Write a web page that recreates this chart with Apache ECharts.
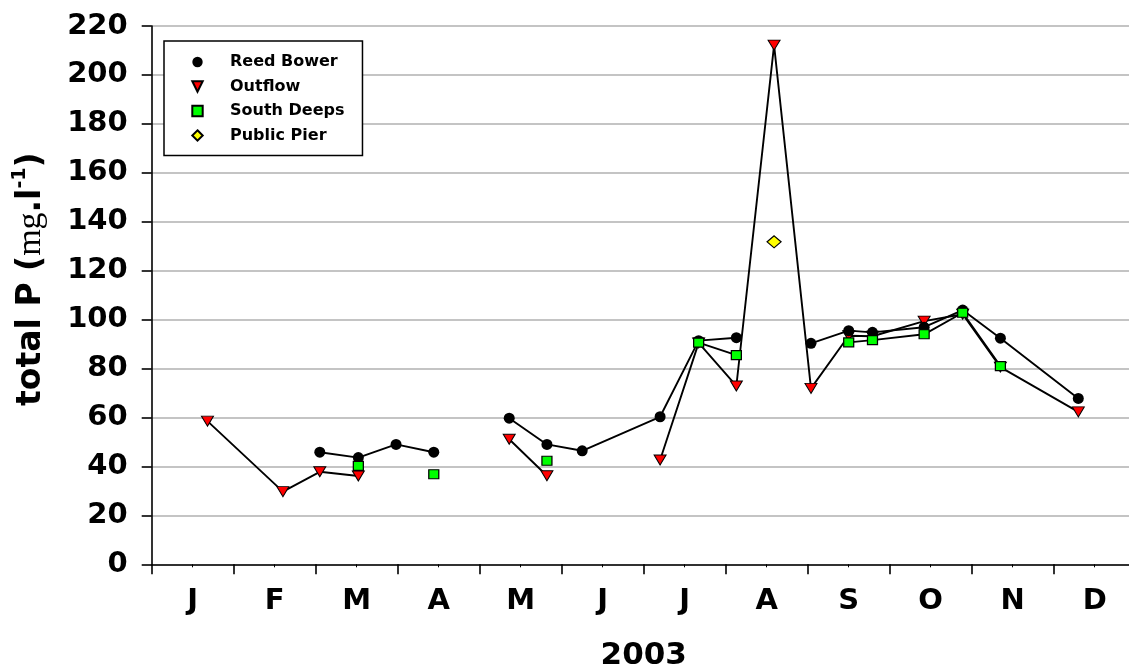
<!DOCTYPE html>
<html>
<head>
<meta charset="utf-8">
<script src="https://cdn.jsdelivr.net/npm/echarts@6/dist/echarts.min.js"></script>
<style>
  html, body { margin: 0; padding: 0; background: #ffffff; }
  #chart { width: 1129px; height: 672px; }
</style>
</head>
<body>
<div id="chart"></div>
<script>
// Month initials shown under the time axis (one per month of 2003)
const monthLabels = ['J', 'F', 'M', 'A', 'M', 'J', 'J', 'A', 'S', 'O', 'N', 'D'];

// Sampling dates, in months since 1 January 2003 (fractional)
const sampleMonths = [0.68, 1.60, 2.05, 2.52, 2.98, 3.44, 3.90, 4.36, 4.82, 5.25,
                      6.20, 6.67, 7.13, 7.59, 8.04, 8.50, 8.79, 9.42, 9.89, 10.35, 11.30];

// Total phosphorus per site; null = not sampled on that date (breaks the line)
const reedBower  = [null, null, 45.8, 43.6, 49.0, 45.8, null, 59.7, 49.0, 46.4,
                    60.3, 91.4, 92.6, null, 90.3, 95.5, 94.8, 96.9, 103.9, 92.4, 67.8];
const outflow    = [58.5, 29.7, 37.8, 36.1, null, null, null, 51.1, 36.2, null,
                    42.6, 90.5, 72.9, 212.2, 71.9, 93.4, 93.2, 99.4, 102.2, 80.6, 62.3];
const southDeeps = [null, null, null, 40.2, null, 36.8, null, null, 42.3, null,
                    null, 90.6, 85.5, null, null, 90.7, 91.6, 94.0, 102.8, 81.0, null];
const publicPier = [null, null, null, null, null, null, null, null, null, null,
                    null, null, null, 131.8, null, null, null, null, null, null, null];

// Value axis range
const yMin = 0, yMax = 220, yStep = 20;

const toPairs = vals => sampleMonths.map((m, i) => [m, vals[i] === null ? '-' : vals[i]]);

const boldFont = 'DejaVu Sans';

const lineStyle = { color: '#000000', width: 1.9 };

const chart = echarts.init(document.getElementById('chart'), null, { renderer: 'canvas' });

chart.setOption({
  animation: false,
  backgroundColor: '#ffffff',
  grid: {
    left: 151.7, right: -6.7, top: 26, bottom: 107.7,
    containLabel: false, outerBoundsMode: 'none'
  },
  legend: {
    orient: 'vertical',
    left: 164, top: 41,
    backgroundColor: '#ffffff',
    borderColor: '#000000', borderWidth: 1.5, borderRadius: 0,
    padding: [13, 18, 12, 26],
    itemWidth: 13, itemHeight: 13, itemGap: 8.5,
    lineStyle: { color: 'rgba(0,0,0,0)' },
    textStyle: {
      fontFamily: boldFont, fontWeight: 'bold', fontSize: 16, color: '#000000',
      lineHeight: 13, padding: [0, 0, 0, 21]
    },
    selectedMode: false,
    data: ['Reed Bower', 'Outflow', 'South Deeps', 'Public Pier']
  },
  xAxis: [
    {
      type: 'value', min: 0, max: 12, interval: 1, position: 'bottom',
      axisLine: { show: true, onZero: false, lineStyle: { color: '#000000', width: 1.6 } },
      axisTick: { show: true, inside: false, length: 10, lineStyle: { color: '#000000', width: 1.6 } },
      minorTick: { show: true, splitNumber: 2, length: 3, lineStyle: { color: '#000000', width: 1 } },
      axisLabel: { show: false },
      splitLine: { show: false },
      name: '2003', nameLocation: 'middle', nameGap: 76, nameMoveOverlap: false,
      nameTextStyle: { fontFamily: boldFont, fontWeight: 'bold', fontSize: 31, color: '#000000' }
    },
    {
      // carries the month initials, centred on each month
      type: 'value', min: 0, max: 12, interval: 0.5, position: 'bottom', gridIndex: 0,
      axisLine: { show: false }, axisTick: { show: false }, splitLine: { show: false },
      axisLabel: {
        margin: 23, fontFamily: boldFont, fontWeight: 'bold', fontSize: 29, color: '#000000',
        formatter: v => (Math.abs(v - Math.round(v)) < 1e-6 ? '' : monthLabels[Math.floor(v)])
      }
    }
  ],
  yAxis: {
    type: 'value', min: yMin, max: yMax, interval: yStep,
    axisLine: { show: true, lineStyle: { color: '#000000', width: 1.6 } },
    axisTick: { show: true, inside: false, length: 10, lineStyle: { color: '#000000', width: 1.6 } },
    axisLabel: { margin: 24, fontFamily: boldFont, fontWeight: 'bold', fontSize: 29, color: '#000000' },
    splitLine: { show: true, lineStyle: { color: '#c4c4c4', width: 2 } },
    name: '{a|total P (}{m|mg}{a|.l}{s|-1}{a|)}',
    nameLocation: 'middle', nameRotate: 90, nameGap: 100, nameMoveOverlap: false,
    nameTextStyle: {
      padding: [0, 0, 0, 32],
      rich: {
        a: { fontFamily: boldFont, fontWeight: 'bold', fontSize: 33, color: '#000000' },
        m: { fontFamily: 'Liberation Serif', fontWeight: 'normal', fontSize: 34, color: '#000000' },
        s: { fontFamily: boldFont, fontWeight: 'bold', fontSize: 19, color: '#000000', padding: [0, 0, 22, 0] }
      }
    }
  },
  series: [
    {
      name: 'Outflow', type: 'line', xAxisIndex: 0, data: toPairs(outflow),
      symbol: 'triangle', symbolRotate: 180, symbolSize: [12, 10], connectNulls: false,
      lineStyle: lineStyle,
      itemStyle: { color: '#ff0000', borderColor: '#000000', borderWidth: 1 },
      z: 2
    },
    {
      name: 'Reed Bower', type: 'line', xAxisIndex: 0, data: toPairs(reedBower),
      symbol: 'circle', symbolSize: 11, connectNulls: false,
      lineStyle: lineStyle,
      itemStyle: { color: '#000000', borderColor: '#000000', borderWidth: 0 },
      z: 3
    },
    {
      name: 'South Deeps', type: 'line', xAxisIndex: 0, data: toPairs(southDeeps),
      symbol: 'rect', symbolSize: [10, 9], connectNulls: false,
      lineStyle: lineStyle,
      itemStyle: { color: '#00ff00', borderColor: '#000000', borderWidth: 1.2 },
      z: 4
    },
    {
      name: 'Public Pier', type: 'line', xAxisIndex: 0, data: toPairs(publicPier),
      symbol: 'diamond', symbolSize: [14, 12], connectNulls: false,
      lineStyle: lineStyle,
      itemStyle: { color: '#ffff00', borderColor: '#000000', borderWidth: 1.2 },
      z: 5
    }
  ]
});
</script>
</body>
</html>
